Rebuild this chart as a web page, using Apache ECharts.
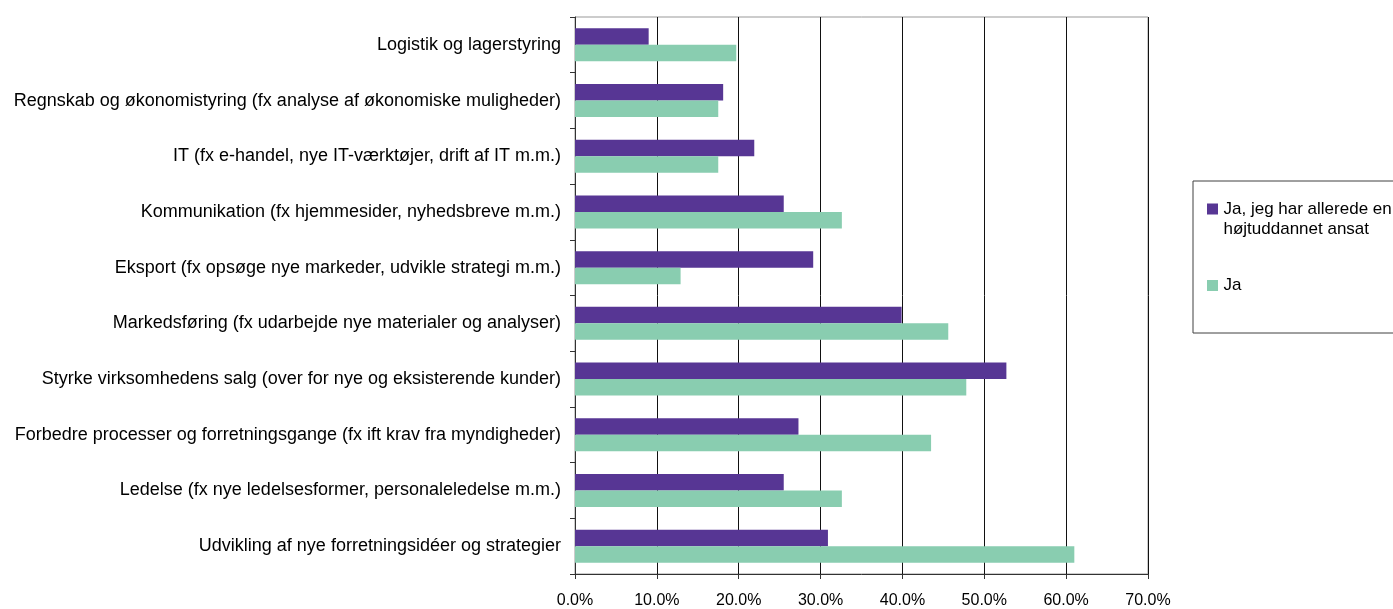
<!DOCTYPE html>
<html>
<head>
<meta charset="utf-8">
<script src="https://cdn.jsdelivr.net/npm/echarts@6/dist/echarts.min.js"></script>
<style>
  html, body { margin: 0; padding: 0; background: #fff; }
  #chart { width: 1393px; height: 609px; }
</style>
</head>
<body>
<div id="chart"></div>
<script>
const categories = [
  'Logistik og lagerstyring',
  'Regnskab og økonomistyring (fx analyse af økonomiske muligheder)',
  'IT (fx e-handel, nye IT-værktøjer, drift af IT m.m.)',
  'Kommunikation (fx hjemmesider, nyhedsbreve m.m.)',
  'Eksport (fx opsøge nye markeder, udvikle strategi m.m.)',
  'Markedsføring (fx udarbejde nye materialer og analyser)',
  'Styrke virksomhedens salg (over for nye og eksisterende kunder)',
  'Forbedre processer og forretningsgange (fx ift krav fra myndigheder)',
  'Ledelse (fx nye ledelsesformer, personaleledelse m.m.)',
  'Udvikling af nye forretningsidéer og strategier'
]
const seriesNames = ['Ja, jeg har allerede en\nhøjtuddannet ansat', 'Ja']
const harAnsat = [9.0, 18.1, 21.9, 25.5, 29.1, 39.9, 52.7, 27.3, 25.5, 30.9]
const ja = [19.7, 17.5, 17.5, 32.6, 12.9, 45.6, 47.8, 43.5, 32.6, 61.0]
const xTicks = [0, 10, 20, 30, 40, 50, 60, 70]

const font = '"Liberation Sans", Arial, sans-serif'
const purple = '#573694'
const green = '#89cdb0'

const chart = echarts.init(document.getElementById('chart'))
chart.setOption({
  animation: false,
  grid: {
    left: 575,
    top: 17,
    right: 245,
    bottom: 33,
    show: true,
    borderColor: '#999',
    borderWidth: 1
  },
  legend: {
    orient: 'vertical',
    left: 1193,
    top: 181,
    padding: [18, 20, 32, 14],
    borderColor: '#404040',
    borderWidth: 1,
    itemWidth: 12,
    itemHeight: 31,
    itemGap: 31,
    textStyle: { fontFamily: font, fontSize: 17, lineHeight: 20, color: '#000' },
    data: [
      // square sits in the top part so it lines up with the first text line
      { name: seriesNames[0], icon: 'path://M0,0h11v11h-11z M0,31h0.01v0.01h-0.01z' },
      { name: seriesNames[1], icon: 'path://M0,0h0.01v0.01h-0.01z M0,10h11v11h-11z M0,31h0.01v0.01h-0.01z' }
    ]
  },
  xAxis: {
    type: 'value',
    min: xTicks[0],
    max: xTicks[xTicks.length - 1],
    interval: 10,
    axisLine: { show: true, lineStyle: { color: '#333' } },
    axisTick: { show: true, length: 5, lineStyle: { color: '#333' } },
    axisLabel: {
      margin: 19,
      fontFamily: font,
      fontSize: 16,
      color: '#000',
      formatter: v => v.toFixed(1) + '%'
    },
    splitLine: { show: true, lineStyle: { color: '#111', width: 1 } }
  },
  yAxis: {
    type: 'category',
    data: categories,
    inverse: true,
    axisLine: { show: true, lineStyle: { color: '#333' } },
    axisTick: { show: true, length: 5, lineStyle: { color: '#333' } },
    axisLabel: { margin: 14, fontFamily: font, fontSize: 18, color: '#000' }
  },
  series: [
    {
      name: seriesNames[0],
      type: 'bar',
      data: harAnsat,
      barWidth: 16.5,
      barGap: '0%',
      itemStyle: { color: purple }
    },
    {
      name: seriesNames[1],
      type: 'bar',
      data: ja,
      barWidth: 16.5,
      barGap: '0%',
      itemStyle: { color: green }
    }
  ]
})
</script>
</body>
</html>
